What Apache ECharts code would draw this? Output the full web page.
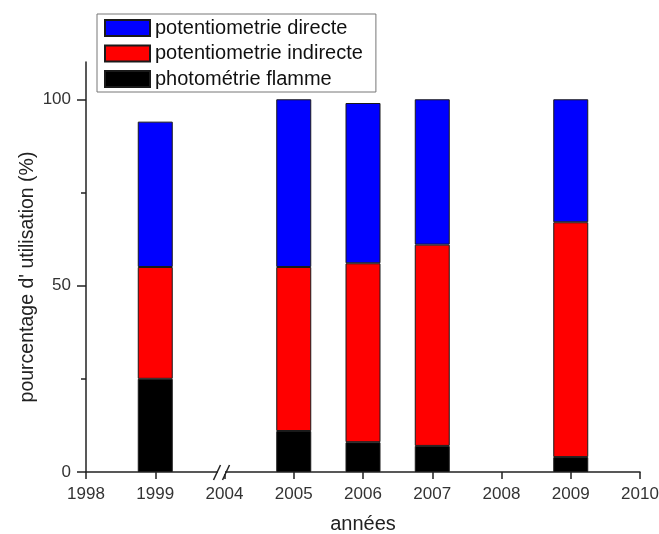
<!DOCTYPE html>
<html>
<head>
<meta charset="utf-8">
<script src="https://cdn.jsdelivr.net/npm/echarts@6/dist/echarts.min.js"></script>
<style>html,body{margin:0;padding:0;background:#fff}#c{width:659px;height:534px}</style>
</head>
<body>
<div id="c"></div>
<script>
var years = ['1998', '1999', '2004', '2005', '2006', '2007', '2008', '2009', '2010'];
var photometrieFlamme = [null, 25, null, 11, 8, 7, null, 4, null];
var potentioIndirecte = [null, 30, null, 44, 48, 54, null, 63, null];
var potentioDirecte = [null, 39, null, 45, 43, 39, null, 33, null];
var yTicks = [0, 50, 100];
var yMinorTicks = [25, 75];

var font = 'Liberation Sans, Arial, sans-serif';
var chart = echarts.init(document.getElementById('c'), null, {renderer: 'canvas'});
var barStyle = function (c) { return {color: c, borderColor: '#1a1a1a', borderWidth: 1}; };
chart.setOption({
  animation: false,
  backgroundColor: '#fff',
  textStyle: {fontFamily: font},
  grid: {left: 86, right: 19, top: 62, bottom: 62, outerBoundsMode: 'none', containLabel: false},
  legend: {
    orient: 'vertical', left: 97, top: 14,
    data: ['potentiometrie directe', 'potentiometrie indirecte', 'photométrie flamme'],
    itemWidth: 45, itemHeight: 16, itemGap: 5.5,
    padding: [4, 13, 3, 7],
    borderColor: '#777', borderWidth: 1,
    textStyle: {fontSize: 20, color: '#111', fontFamily: font},
    icon: 'rect'
  },
  xAxis: {
    type: 'category', data: years, boundaryGap: false,
    name: 'années', nameLocation: 'middle', nameGap: 42,
    nameTextStyle: {fontSize: 20, color: '#222', fontFamily: font},
    axisLine: {lineStyle: {color: '#222', width: 1.5}},
    axisTick: {length: 7, lineStyle: {color: '#222', width: 1.5}},
    axisLabel: {fontSize: 17, color: '#333', margin: 14, fontFamily: font},
    splitLine: {show: false}
  },
  yAxis: [{
    type: 'value', min: 0, max: 110, interval: 50,
    name: "pourcentage d' utilisation (%)", nameLocation: 'middle', nameGap: 48, nameMoveOverlap: false,
    nameTextStyle: {fontSize: 19.5, color: '#222', fontFamily: font, padding: [0, 20, 0, 0]},
    axisLine: {show: true, lineStyle: {color: '#222', width: 1.5}},
    axisTick: {show: true, length: 9, customValues: yTicks, lineStyle: {color: '#222', width: 1.5}},
    axisLabel: {fontSize: 17, color: '#333', margin: 15, customValues: yTicks, fontFamily: font},
    splitLine: {show: false}
  }, {
    type: 'value', min: 0, max: 110, position: 'left', interval: 25,
    axisLine: {show: false},
    axisTick: {show: true, length: 5, customValues: yMinorTicks, lineStyle: {color: '#222', width: 1.5}},
    axisLabel: {show: false},
    splitLine: {show: false}
  }],
  series: [
    {name: 'photométrie flamme', type: 'bar', stack: 's', barWidth: 35, data: photometrieFlamme, itemStyle: barStyle('#000000')},
    {name: 'potentiometrie indirecte', type: 'bar', stack: 's', barWidth: 35, data: potentioIndirecte, itemStyle: barStyle('#ff0000')},
    {name: 'potentiometrie directe', type: 'bar', stack: 's', barWidth: 35, data: potentioDirecte, itemStyle: barStyle('#0000ff')}
  ]
});

var bx = chart.convertToPixel({xAxisIndex: 0}, '2004') - 3;
var by = chart.convertToPixel({yAxisIndex: 0}, 0);
chart.setOption({
  graphic: [
    {type: 'rect', shape: {x: bx - 3.5, y: by - 2, width: 7, height: 4}, style: {fill: '#fff'}, z: 100},
    {type: 'line', shape: {x1: bx - 8, y1: by + 8, x2: bx - 1, y2: by - 7}, style: {stroke: '#222', lineWidth: 1.5}, z: 101},
    {type: 'line', shape: {x1: bx + 1, y1: by + 8, x2: bx + 8, y2: by - 7}, style: {stroke: '#222', lineWidth: 1.5}, z: 101}
  ]
});
</script>
</body>
</html>
